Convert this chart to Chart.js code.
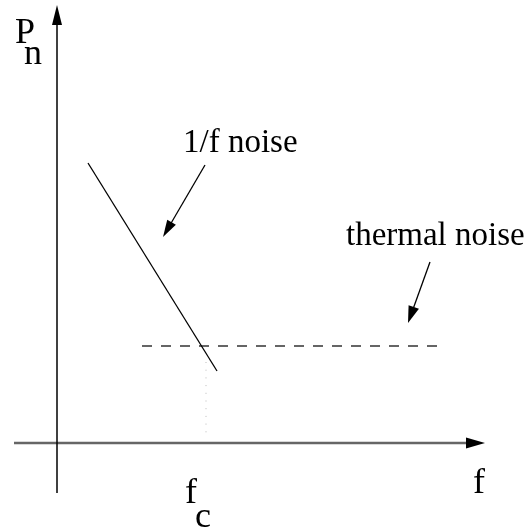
<!DOCTYPE html>
<html>
<head>
<meta charset="utf-8">
<script src="https://cdn.jsdelivr.net/npm/chart.js@4"></script>
<style>
html, body { margin: 0; padding: 0; background: #fff; }
#wrap { width: 532px; height: 531px; }
</style>
</head>
<body>
<div id="wrap"><canvas id="myChart" width="532" height="531"></canvas></div>
<script>
// schematic units: origin where the axes cross, 1 unit ~ 10 px
var flickerF = [3.1, 16.0];
var flickerP = [28.0, 7.2];
var thermalF = [8.5, 38.0];
var thermalP = [9.7, 9.7];
var cornerF = [14.9];
var cornerDrop = [8.1, 0.6];
var seriesNames = ['1/f noise', 'thermal noise'];
var yLabel = ['P', 'n'];
var xLabel = ['f'];
var cornerLabel = ['f', 'c'];

function pts(xs, ys) {
    return xs.map(function (x, i) { return { x: x, y: ys[i] }; });
}

function arrow(c, x1, y1, x2, y2, len, half) {
    var a = Math.atan2(y2 - y1, x2 - x1);
    c.beginPath();
    c.moveTo(x1, y1);
    c.lineTo(x2 - Math.cos(a) * len * 0.8, y2 - Math.sin(a) * len * 0.8);
    c.stroke();
    c.beginPath();
    c.moveTo(x2, y2);
    c.lineTo(x2 - Math.cos(a) * len - Math.sin(a) * half, y2 - Math.sin(a) * len + Math.cos(a) * half);
    c.lineTo(x2 - Math.cos(a) * len + Math.sin(a) * half, y2 - Math.sin(a) * len - Math.cos(a) * half);
    c.closePath();
    c.fill();
}

var sketch = {
    id: 'sketch',
    beforeDatasetsDraw: function (chart) {
        var c = chart.ctx, xs = chart.scales.x, ys = chart.scales.y;
        c.save();
        // horizontal axis (grey)
        c.strokeStyle = '#666';
        c.fillStyle = '#000';
        c.lineWidth = 2.5;
        arrow(c, xs.getPixelForValue(-4.3), ys.getPixelForValue(0),
              xs.getPixelForValue(42.8), ys.getPixelForValue(0), 19, 5.5);
        // vertical axis
        c.strokeStyle = '#000';
        c.lineWidth = 1.5;
        arrow(c, xs.getPixelForValue(0), ys.getPixelForValue(-5.0),
              xs.getPixelForValue(0), ys.getPixelForValue(43.8), 20, 5);
        c.restore();
    },
    afterDatasetsDraw: function (chart) {
        var c = chart.ctx, xs = chart.scales.x, ys = chart.scales.y;
        function px(x) { return xs.getPixelForValue(x); }
        function py(y) { return ys.getPixelForValue(y); }
        c.save();
        c.fillStyle = '#000';
        c.strokeStyle = '#000';
        c.lineWidth = 1.3;
        // pointers to the two curves
        arrow(c, px(14.8), py(27.8), px(10.6), py(20.6), 17, 5);
        arrow(c, px(37.3), py(18.1), px(35.1), py(12.0), 17, 5.5);

        c.textBaseline = 'alphabetic';
        c.textAlign = 'left';
        c.font = '33px "Liberation Serif"';
        c.fillText(seriesNames[0], px(12.6), py(29.1));
        c.fillText(seriesNames[1], px(28.9), py(19.8));

        c.font = '36px "Liberation Serif"';
        c.fillText(yLabel[0], px(-4.2), py(40.0));
        c.fillText(yLabel[1], px(-3.3), py(37.9));
        c.fillText(xLabel[0], px(41.6), py(-5.0));
        c.fillText(cornerLabel[0], px(12.8), py(-6.0));
        c.fillText(cornerLabel[1], px(13.8), py(-8.4));
        c.restore();
    }
};

var ctx = document.getElementById('myChart').getContext('2d');
var noiseChart = new Chart(ctx, {
    type: 'scatter',
    data: {
        datasets: [
            {
                label: seriesNames[0],
                data: pts(flickerF, flickerP),
                showLine: true,
                borderColor: '#000',
                borderWidth: 1.3,
                pointRadius: 0,
                clip: false
            },
            {
                label: seriesNames[1],
                data: pts(thermalF, thermalP),
                showLine: true,
                borderColor: '#333',
                borderWidth: 1.5,
                borderDash: [10, 9],
                pointRadius: 0,
                clip: false
            },
            {
                label: 'fc',
                data: pts([cornerF[0], cornerF[0]], cornerDrop),
                showLine: true,
                borderColor: '#bbb',
                borderWidth: 1,
                borderDash: [1, 6.7],
                pointRadius: 0,
                clip: false
            }
        ]
    },
    options: {
        responsive: false,
        animation: false,
        layout: { padding: 0 },
        scales: {
            x: { type: 'linear', min: -5.7, max: 47.5, display: false },
            y: { type: 'linear', min: -8.8, max: 44.3, display: false }
        },
        plugins: {
            legend: { display: false },
            tooltip: { enabled: false }
        }
    },
    plugins: [sketch]
});
</script>
</body>
</html>
